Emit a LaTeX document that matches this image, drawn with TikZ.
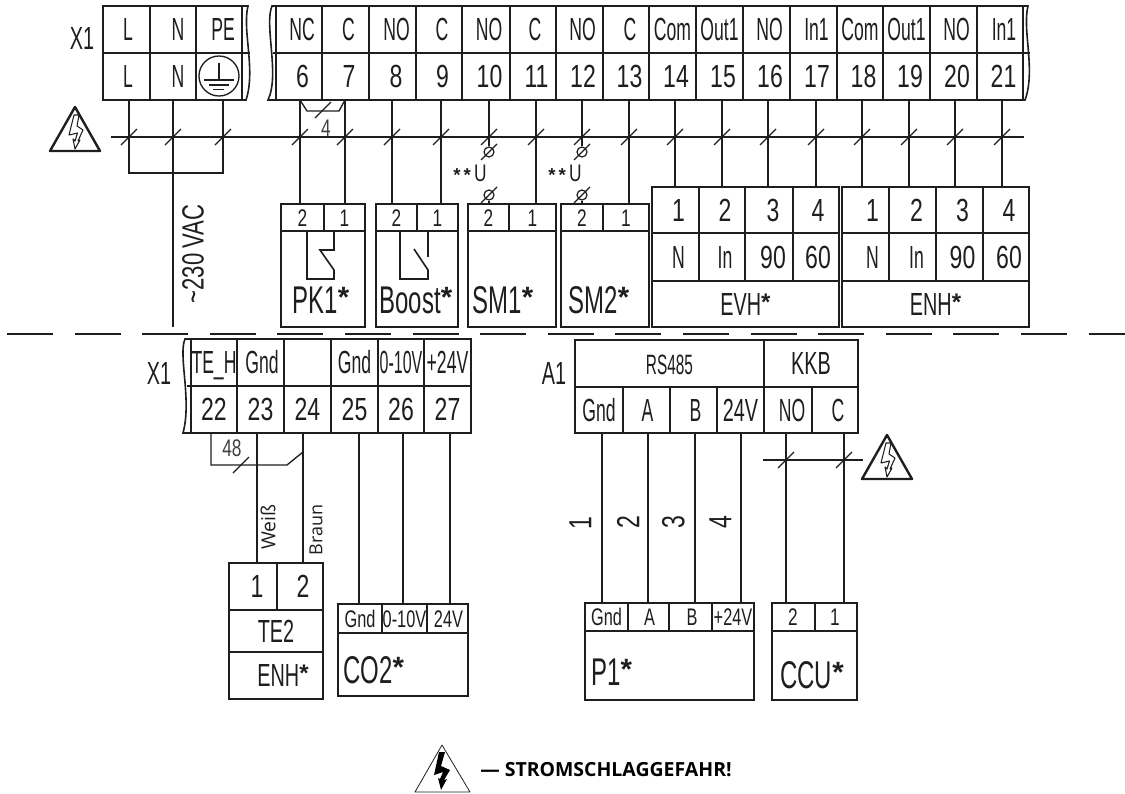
\documentclass[tikz,border=0pt]{standalone}
\usepackage{fontspec}
\setmainfont{Liberation Sans}
\newfontfamily\tfa[FakeStretch=0.55]{Liberation Sans}
\newfontfamily\tfb[FakeStretch=0.62]{Liberation Sans}
\newfontfamily\tfc[FakeStretch=0.72]{Liberation Sans}
\newfontfamily\tfd[FakeStretch=0.68]{Liberation Sans}
\newfontfamily\tfe[FakeStretch=0.5]{Liberation Sans}
\newfontfamily\stf{Liberation Sans}
\newfontfamily\opn{Open Sans}
\definecolor{ink}{HTML}{1E1E1C}
\newcommand\stkb{\raisebox{5pt}{\stf\bfseries\fontsize{22}{24}\selectfont *}}
\newcommand\stkm{\raisebox{4pt}{\stf\bfseries\fontsize{18}{20}\selectfont *}}
\newcommand\stks{{\stf\bfseries\fontsize{14}{16}\selectfont *\,*\,}}
\tikzset{
 wireline/.style={draw=ink,line width=1.2pt},
 thinline/.style={draw=ink,line width=0.85pt},
 cellbox/.style={draw=ink,line width=1.25pt,inner sep=0pt,outer sep=0pt,text=ink},
 fmain/.style={font=\tfa\fontsize{24}{26}\selectfont,text height=17.2pt,text depth=0pt},
 fwide/.style={font=\tfb\fontsize{24}{26}\selectfont,text height=17.2pt,text depth=0pt},
 fnum/.style={font=\tfc\fontsize{24}{26}\selectfont,text height=17.2pt,text depth=0pt},
 fnarrow/.style={font=\tfe\fontsize{24}{26}\selectfont,text height=17.2pt,text depth=0pt},
 fhead/.style={font=\tfc\fontsize{18}{20}\selectfont,text height=12.9pt,text depth=0pt},
 fdev/.style={font=\tfd\fontsize{18}{20}\selectfont,text height=12.9pt,text depth=0pt},
 fbig/.style={font=\tfb\fontsize{29}{31}\selectfont,text height=20.8pt,text depth=0pt,text=ink,inner sep=0pt},
 fside/.style={font=\tfb\fontsize{24}{26}\selectfont,text height=17.2pt,text depth=0pt,text=ink,inner sep=0pt},
 fsmall/.style={font=\tfc\fontsize{18}{20}\selectfont,text=ink!85,inner sep=0pt},
}
% \cellt[font style]{name}{x1}{y1}{x2}{y2}{text shift}{text}
\newcommand\cellt[8][fmain]{%
 \node[cellbox,#1,minimum width={(#5-#3)*0.75pt},minimum height={(#6-#4)*0.75pt}]
  (#2) at ({(#3+#5)/2},{(#4+#6)/2}) {\makebox[0pt]{\hspace*{#7\dimexpr 1.5pt\relax}#8}};}
\newcommand\wire[3]{\draw[wireline] (#1,0 |- #2.south) -- (#1,0 |- #3.north);}
\newcommand\tick[2]{\draw[thinline] ({#1-8},{#2+8}) -- ({#1+8},{#2-8});}
\newcommand\hazard[2]{%
 \begin{scope}[shift={(#1,#2)}]
 \draw[draw=ink,line width=1.8pt,line join=round] (0,0) -- (25,44) -- (-25,44) -- cycle;
 \draw[draw=ink,line width=0.8pt,line join=round,fill=white] (-1,8) -- (4,8) -- (2,19) -- (8,23) -- (3,34) -- (5,33) -- (0,42) -- (-2,32) -- (0,34) -- (2.5,26) -- (-6,28) -- cycle;
 \end{scope}}
\begin{document}
\begin{tikzpicture}[x=0.75pt,y=-0.75pt]
\useasboundingbox (0,0) rectangle (1125,793);
% upper terminal block, left part
\node[fside] (x1a) at (82,38) {X1};
\foreach \nn/\xa/\xb/\ut/\ud/\bt/\bd in {l/103/150/L/1.5/L/1.5,n/150/196/N/5/N/5}{
 \cellt{u\nn}{\xa}{6}{\xb}{53}{\ud}{\ut}
 \cellt{t\nn}{\xa}{53}{\xb}{100}{\bd}{\bt}
}
\cellt{upe}{196}{6}{242}{53}{4}{PE}
\cellt{tpe}{196}{53}{242}{100}{0}{}
\draw[draw=ink,line width=1pt] (219,76) circle (15pt);
\draw[draw=ink,line width=1pt] (219,63) -- (219,80) (204,80) -- (234,80) (209,85) -- (229,85) (213,89.5) -- (224,89.5);
\draw[wireline] (242,6) -- (248,6) .. controls (242,30) and (256,70) .. (246,100) -- (242,100);
\draw[wireline] (242,53) -- (250,53);
% upper terminal block, main part
\foreach \nn/\xa/\xb/\ut/\ud in {6/276/322/NC/3,7/322/369/C/3,8/369/416/NO/4,9/416/462/C/3,10/462/510/NO/3,11/510/556/C/2,12/556/603/NO/3,13/603/649/C/4,14/649/696/Com/0,15/696/743/Out1/0,16/743/790/NO/3,17/790/837/In1/3,18/837/883/Com/0,19/883/930/Out1/0,20/930/977/NO/3,21/977/1023/In1/4}{
 \cellt{u\nn}{\xa}{6}{\xb}{53}{\ud}{\ut}
 \cellt[fnum]{t\nn}{\xa}{53}{\xb}{100}{3.5}{\nn}
}
\draw[wireline] (276,6) -- (272,6) .. controls (264,25) and (280,75) .. (268,100) -- (276,100);
\draw[wireline] (276,53) -- (273,53);
\draw[wireline] (1023,6) -- (1028,6) .. controls (1022,30) and (1036,70) .. (1025,100) -- (1023,100);
\draw[wireline] (1023,53) -- (1030,53);
% bus
\coordinate (busl) at (111,137);
\coordinate (busr) at (1024,137);
\draw[thinline] (busl) -- (busr);
\hazard{75}{107}
% mains supply
\coordinate (nend) at (173,327);
\draw[wireline] (129,0 |- tl.south) -- (129,173) -- (223,173) -- (223,0 |- tpe.south);
\draw[wireline] (173,0 |- tn.south) -- (nend);
\node[rotate=90,font=\tfc\fontsize{23}{25}\selectfont,text=ink,inner sep=0pt] (vac) at (193,254) {\textasciitilde 230\,VAC};
% dashed separation line
\draw[draw=ink,line width=0.85pt,dash pattern=on 34.5pt off 16.2pt] (7,334) -- (1125,334);
% lower devices of the upper row
\foreach \nm/\xa/\xm/\xb in {pk/281/324/365,bo/376/417/458,sa/468/509/556,sb/561/603/649}{
 \cellt[fhead]{\nm t}{\xa}{204}{\xm}{231}{0}{2}
 \cellt[fhead]{\nm u}{\xm}{204}{\xb}{231}{0}{1}
 \cellt{\nm b}{\xa}{231}{\xb}{327}{0}{}
}
\node[fbig] (pkl) at (321,300) {PK1\stkb};
\node[fbig] (bol) at (416,300) {Boost\stkb};
\node[fbig] (sal) at (503,300) {SM1\stkb};
\node[fbig] (sbl) at (599,300) {SM2\stkb};
\draw[wireline] (307,231) -- (307,279) -- (334,279) -- (334,270) -- (320,250) -- (334,250) -- (334,231);
\draw[wireline] (400,231) -- (400,279) -- (428,279) -- (428,270) -- (414,249);
\draw[wireline] (428,231) -- (428,257);
% EVH and ENH
\foreach \nm/\xa/\xb/\xc/\xd/\xe/\da/\db/\dc/\dd in {e/652/699/745/793/839/3/3/4/2,f/842/889/936/983/1029/7/4/3/3}{
 \cellt[fnum]{\nm a}{\xa}{187}{\xb}{233}{\da}{1}
 \cellt[fnum]{\nm b}{\xb}{187}{\xc}{233}{\db}{2}
 \cellt[fnum]{\nm c}{\xc}{187}{\xd}{233}{\dc}{3}
 \cellt[fnum]{\nm d}{\xd}{187}{\xe}{233}{\dd}{4}
 \cellt{\nm p}{\xa}{233}{\xb}{281}{\da}{N}
 \cellt{\nm q}{\xb}{233}{\xc}{281}{\db}{In}
 \cellt[fnum]{\nm r}{\xc}{233}{\xd}{281}{\dc}{90}
 \cellt[fnum]{\nm s}{\xd}{233}{\xe}{281}{\dd}{60}
}
\cellt[fwide]{eb2}{652}{281}{839}{327}{0}{EVH\stkm}
\cellt[fwide]{fb2}{842}{281}{1029}{327}{0}{ENH\stkm}
% wires of the upper row
\wire{300}{t6}{pkt}
\wire{345}{t7}{pku}
\wire{392}{t8}{bot}
\wire{441}{t9}{bou}
\wire{536}{t11}{sau}
\wire{629}{t13}{sbu}
\wire{675}{t14}{ea}
\wire{722}{t15}{eb}
\wire{768}{t16}{ec}
\wire{816}{t17}{ed}
\wire{862}{t18}{fa}
\wire{909}{t19}{fb}
\wire{955}{t20}{fc}
\wire{1002}{t21}{fd}
% switched supply with U terminals
\foreach \nn/\xx/\dv in {10/489/sat,12/582/sbt}{
 \node[circle,draw=ink,line width=0.9pt,minimum size=7.5pt,inner sep=0pt] (p\nn) at (\xx,152) {};
 \node[circle,draw=ink,line width=0.9pt,minimum size=7.5pt,inner sep=0pt] (q\nn) at (\xx,195) {};
 \draw[wireline] (\xx,0 |- t\nn.south) -- (p\nn.north);
 \draw[wireline] (q\nn.south) -- (\xx,0 |- \dv.north);
 \tick{\xx}{152}
 \tick{\xx}{195}
}
\node[font=\tfc\fontsize{18}{20}\selectfont,text=ink,inner sep=0pt] (ua) at (470,173) {\stks U};
\node[font=\tfc\fontsize{18}{20}\selectfont,text=ink,inner sep=0pt] (ub) at (565,173) {\stks U};
% ticks on the bus
\foreach \xx in {129,173,223,300,345,392,441,489,536,582,629,675,722,768,816,862,909,955,1002}{\tick{\xx}{137}}
% jumper 4
\draw[thinline,line width=1pt] (300,0 |- t6.south) -- (307,111) -- (339,111) -- (345,0 |- t7.south);
\tick{323}{110}
\node[fsmall] (j4) at (326,128) {4};
% lower X1 terminal block
\node[fside] (x1b) at (159,373) {X1};
\foreach \nn/\xa/\xb/\ut/\nd in {22/191/237/TE\_H/0,23/237/284/Gnd/1.5,24/284/331//0,25/331/378/Gnd/0,27/424/471/+24V/0}{
 \cellt{u\nn}{\xa}{339}{\xb}{386}{\nd}{\ut}
}
\cellt[fnarrow]{u26}{378}{339}{424}{386}{0}{0-10V}
\foreach \nn/\xa/\xb in {22/191/237,23/237/284,24/284/331,25/331/378,26/378/424,27/424/471}{
 \cellt[fnum]{t\nn}{\xa}{386}{\xb}{433}{0}{\nn}
}
\draw[wireline] (191,339) -- (185,339) .. controls (178,355) and (192,400) .. (183,433) -- (191,433);
\draw[wireline] (191,386) -- (187,386);
% A1 block
\node[fside] (a1) at (554,373) {A1};
\cellt{rs}{575}{340}{764}{387}{0}{\fontsize{21}{23}\selectfont RS485}
\cellt[fwide]{kkb}{764}{340}{858}{387}{0}{KKB}
\foreach \nm/\xa/\xb/\ut/\nd in {ag/575/623/Gnd/0,aa/623/670/A/1,ab/670/717/B/2,ad/764/812/NO/4,ae/812/858/C/3}{
 \cellt{\nm}{\xa}{387}{\xb}{433}{\nd}{\ut}
}
\cellt[fwide]{ac}{717}{387}{764}{433}{0}{24V}
% TE2
\cellt[fnum]{te1}{229}{563}{277}{610}{4}{1}
\cellt[fnum]{te2}{277}{563}{323}{610}{3}{2}
\cellt[fwide]{te3}{229}{610}{323}{652}{0}{TE2}
\cellt[fwide]{te4}{229}{652}{323}{699}{7}{ENH\stkm}
\wire{257}{t23}{te1}
\wire{303}{t24}{te2}
\node[rotate=90,font=\opn\fontsize{14.5}{16}\selectfont,text=ink,inner sep=0pt] (wei) at (268,527) {Weiß};
\node[rotate=90,font=\opn\fontsize{13.5}{15}\selectfont,text=ink,inner sep=0pt] (bra) at (316,530) {Braun};
% jumper 48
\draw[thinline,line width=1pt] (211,0 |- t22.south) -- (211,465) -- (287,465) -- (303,452);
\tick{241}{465}
\node[fsmall] (j48) at (232,448) {48};
% CO2
\cellt[fdev]{ca}{338}{604}{382}{633}{0}{Gnd}
\cellt[fdev]{cb}{382}{604}{427}{633}{0}{0-10V}
\cellt[fdev]{cc}{427}{604}{468}{633}{1}{24V}
\cellt{cd}{338}{633}{468}{696}{0}{}
\node[fbig,anchor=west] (col) at (343,670) {CO2\stkb};
\wire{359}{t25}{ca}
\wire{403}{t26}{cb}
\wire{450}{t27}{cc}
% P1
\cellt[fdev]{pa}{585}{603}{628}{631}{0}{Gnd}
\cellt[fdev]{pb}{628}{603}{669}{631}{1}{A}
\cellt[fdev]{pc}{669}{603}{712}{631}{1.5}{B}
\cellt[fdev]{pd}{712}{603}{754}{631}{0}{+24V}
\cellt{pe}{585}{631}{754}{700}{0}{}
\node[fbig,anchor=west] (pl) at (591,672) {P1\stkb};
\wire{602}{ag}{pa}
\wire{648}{aa}{pb}
\wire{695}{ab}{pc}
\wire{741}{ac}{pd}
\foreach \xx/\yy/\tt in {580/523/1,628/522/2,673/522/3,720/522/4}{
 \node[rotate=90,fnum,text=ink,inner sep=0pt] (w\tt) at (\xx,\yy) {\tt};
}
% CCU
\cellt[fhead]{ua1}{772}{603}{815}{631}{-0.5}{2}
\cellt[fhead]{ub1}{815}{603}{857}{631}{-1}{1}
\cellt{uc1}{772}{631}{857}{700}{0}{}
\node[fbig] (ccl) at (812,675) {CCU\stkb};
\wire{786}{ad}{ua1}
\wire{844}{ae}{ub1}
\coordinate (kl) at (763,460);
\coordinate (kr) at (863,460);
\draw[thinline] (kl) -- (kr);
\tick{786}{460}
\tick{844}{460}
\hazard{887}{435}
% warning
\draw[draw=ink,line width=0.6pt,line join=round] (442,745) -- (470,792) -- (415,792) -- cycle;
\fill[black] (439,752) -- (445,752) -- (441,766) -- (450,770) -- (444,780) -- (447,779) -- (441,790) -- (438,778) -- (440,779) -- (443,772) -- (434,775) -- cycle;
\node[anchor=west,inner sep=0pt,text=black,font=\opn\bfseries\fontsize{14.6}{17}\selectfont] (warn) at (480,770) {— STROMSCHLAGGEFAHR!};
\end{tikzpicture}
\end{document}
